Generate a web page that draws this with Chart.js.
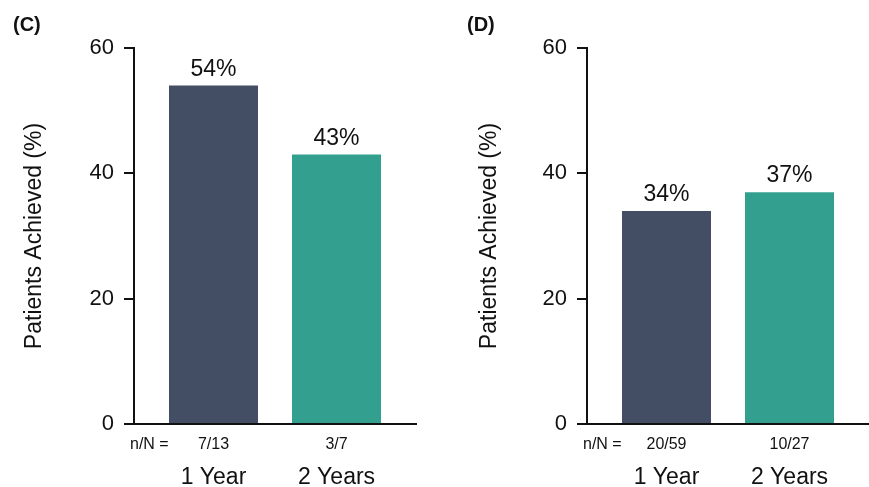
<!DOCTYPE html>
<html>
<head>
<meta charset="utf-8">
<script src="https://cdn.jsdelivr.net/npm/chart.js@4/dist/chart.umd.min.js"></script>
<style>
  html, body { margin: 0; padding: 0; background: #fff; overflow: hidden; }
  .panel { position: absolute; top: 0; height: 487px; }
  #panelC { left: 0; width: 435px; }
  #panelD { left: 434px; width: 435px; }
</style>
</head>
<body>
<div class="panel" id="panelC"><canvas id="chartC"></canvas></div>
<div class="panel" id="panelD"><canvas id="chartD"></canvas></div>
<script>
// Follow-up periods shown on the x axis
const periods = ['1 Year', '2 Years'];

// Panel (C)
const panelCValues = [54, 43];
const panelCCounts = ['7/13', '3/7'];

// Panel (D)
const panelDValues = [34, 37];
const panelDCounts = ['20/59', '10/27'];

// Y axis ticks
const yTicks = [0, 20, 40, 60];

const FONT = '"Liberation Sans", Arial, Helvetica, sans-serif';
const INK = '#111111';
const BAR_COLORS = ['#434d63', '#33a08f'];

// Writes the percentage over each bar, the "n/N =" prefix and the panel tag
const annotate = {
  id: 'annotate',
  afterDraw(chart, args, opts) {
    const ctx = chart.ctx;
    const meta = chart.getDatasetMeta(0);
    const data = chart.data.datasets[0].data;
    ctx.save();
    ctx.fillStyle = INK;

    ctx.font = '23px ' + FONT;
    ctx.textAlign = 'center';
    ctx.textBaseline = 'alphabetic';
    meta.data.forEach((bar, i) => {
      ctx.fillText(data[i].y + '%', bar.x, bar.y - 10);
    });

    const xs = chart.scales.x;
    ctx.font = '16px ' + FONT;
    ctx.textAlign = 'left';
    ctx.textBaseline = 'middle';
    ctx.fillText('n/N =', chart.chartArea.left - 4, xs.top + xs.options.ticks.padding + 16 * 1.2 / 2);

    ctx.font = 'bold 20px ' + FONT;
    ctx.fillText(opts.tag, opts.tagX, 25);
    ctx.restore();
  }
};

function fixedTicks(scale) {
  scale.ticks = periods.map((p, i) => ({ value: i + 1 }));
}

function makeChart(id, values, counts, tag, tagX, padLeft, padRight, yWidth) {
  return new Chart(document.getElementById(id), {
    type: 'bar',
    data: {
      datasets: [{
        data: values.map((v, i) => ({ x: i + 1, y: v })),
        backgroundColor: BAR_COLORS,
        borderWidth: 0,
        barPercentage: 0.7236,
        categoryPercentage: 1
      }]
    },
    options: {
      responsive: true,
      maintainAspectRatio: false,
      animation: false,
      events: [],
      layout: { padding: { left: padLeft, right: padRight, top: 48, bottom: 0 } },
      plugins: {
        legend: { display: false },
        tooltip: { enabled: false },
        annotate: { tag: tag, tagX: tagX }
      },
      scales: {
        x: {
          type: 'linear',
          position: 'bottom',
          min: 0.3537,
          max: 2.6463,
          offset: false,
          afterBuildTicks: fixedTicks,
          afterFit(scale) { scale.height = 29; },
          ticks: {
            callback: (v, i) => counts[i],
            font: { family: FONT, size: 16 },
            color: INK,
            padding: 11,
            maxRotation: 0,
            autoSkip: false
          },
          grid: { display: true, drawOnChartArea: false, drawTicks: false, offset: false },
          border: { display: true, color: INK, width: 2 }
        },
        x2: {
          type: 'linear',
          position: 'bottom',
          min: 0.3537,
          max: 2.6463,
          offset: false,
          afterBuildTicks: fixedTicks,
          afterFit(scale) { scale.height = 34; },
          ticks: {
            callback: (v, i) => periods[i],
            font: { family: FONT, size: 23 },
            color: INK,
            padding: 3,
            maxRotation: 0,
            autoSkip: false
          },
          grid: { display: false },
          border: { display: false }
        },
        y: {
          min: yTicks[0],
          max: yTicks[yTicks.length - 1],
          afterBuildTicks(scale) { scale.ticks = yTicks.map(v => ({ value: v })); },
          afterFit(scale) { scale.width = yWidth; },
          ticks: {
            font: { family: FONT, size: 22 },
            color: INK,
            padding: 10
          },
          grid: { drawOnChartArea: false, drawTicks: true, tickLength: 10, color: INK, lineWidth: 2 },
          border: { display: true, color: INK, width: 2 },
          title: {
            display: true,
            text: 'Patients Achieved (%)',
            font: { family: FONT, size: 23 },
            color: INK,
            padding: 0
          }
        }
      }
    },
    plugins: [annotate]
  });
}

makeChart('chartC', panelCValues, panelCCounts, '(C)', 13, 21, 19, 113);
makeChart('chartD', panelDValues, panelDCounts, '(D)', 33, 42, 0, 111);
</script>
</body>
</html>
